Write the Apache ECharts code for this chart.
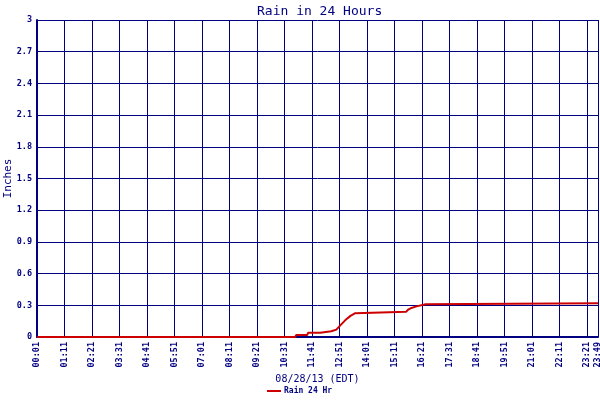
<!DOCTYPE html>
<html>
<head>
<meta charset="utf-8">
<script src="https://cdn.jsdelivr.net/npm/echarts@6/dist/echarts.min.js"></script>
<style>html,body{margin:0;padding:0;background:#fff}#c{width:600px;height:400px}</style>
</head>
<body>
<div id="c"></div>
<script>
// Observation times (EDT, 08/28/13) and 24-hour rain totals (inches)
var times = ["00:01","10:58","11:01","11:29","11:31","12:02","12:05","12:30","12:35","12:43","12:53","13:06","13:19","13:31","13:36","15:41","15:46","15:54","16:07","16:09","16:30","16:35","23:49"];
var rain  = [0, 0, 0.02, 0.02, 0.04, 0.04, 0.055, 0.055, 0.065, 0.07, 0.11, 0.16, 0.20, 0.225, 0.24, 0.24, 0.26, 0.275, 0.29, 0.30, 0.31, 0.32, 0.32];
var yTicks = [0, 0.3, 0.6, 0.9, 1.2, 1.5, 1.8, 2.1, 2.4, 2.7, 3];
var START = "00:01", END = "23:49", TICK_STEP = 70;

function toMin(t){var p=t.split(":");return (+p[0])*60+(+p[1]);}
function offset(t){return toMin(t)-toMin(START);}
function fmt(off){var m=off+toMin(START);var h=Math.floor(m/60),mm=m%60;return (h<10?"0":"")+h+":"+(mm<10?"0":"")+mm;}

var data = times.map(function(t,i){return [offset(t), rain[i]];});
var navy = "#000080";
var chart = echarts.init(document.getElementById('c'));
chart.setOption({
  animation:false,
  backgroundColor:"#fff",
  title:{text:"Rain in 24 Hours",left:252,top:0,textStyle:{fontFamily:"DejaVu Sans Mono",fontSize:13,fontWeight:"normal",color:navy}},
  legend:{bottom:0,left:262,itemWidth:14,itemHeight:2,itemGap:4,icon:"rect",data:["Rain 24 Hr"],textStyle:{fontFamily:"DejaVu Sans Mono",fontSize:8,fontWeight:"bold",color:navy,padding:[0,0,0,-2]}},
  grid:{left:37,right:2,top:20,bottom:63,containLabel:false,outerBoundsMode:"none"},
  xAxis:{type:"value",min:0,max:offset(END),interval:TICK_STEP,
    name:"08/28/13 (EDT)",nameLocation:"middle",nameGap:37,nameMoveOverlap:false,
    nameTextStyle:{fontFamily:"DejaVu Sans Mono",fontSize:10,color:navy},
    axisLine:{show:true,lineStyle:{color:navy,width:2}},
    axisTick:{show:false},
    axisLabel:{rotate:90,margin:5,fontFamily:"DejaVu Sans Mono",fontSize:8.5,fontWeight:"bold",color:navy,showMaxLabel:true,showMinLabel:true,formatter:function(v){return fmt(v);}},
    splitLine:{show:true,lineStyle:{color:navy,width:1}}
  },
  yAxis:{type:"value",min:yTicks[0],max:yTicks[yTicks.length-1],interval:0.3,
    name:"Inches",nameLocation:"middle",nameGap:23,nameRotate:90,nameMoveOverlap:false,
    nameTextStyle:{fontFamily:"DejaVu Sans Mono",fontSize:11,color:navy},
    axisLine:{show:true,lineStyle:{color:navy,width:2}},
    axisTick:{show:false},
    axisLabel:{margin:5,fontFamily:"DejaVu Sans Mono",fontSize:8.5,fontWeight:"bold",color:navy,formatter:function(v){return String(Math.round(v*10)/10);}},
    splitLine:{show:true,lineStyle:{color:navy,width:1}}
  },
  series:[{name:"Rain 24 Hr",type:"line",data:data,showSymbol:false,symbol:"none",clip:false,
    lineStyle:{color:"#cc0000",width:2},itemStyle:{color:"#cc0000"},z:5}]
});
</script>
</body>
</html>
